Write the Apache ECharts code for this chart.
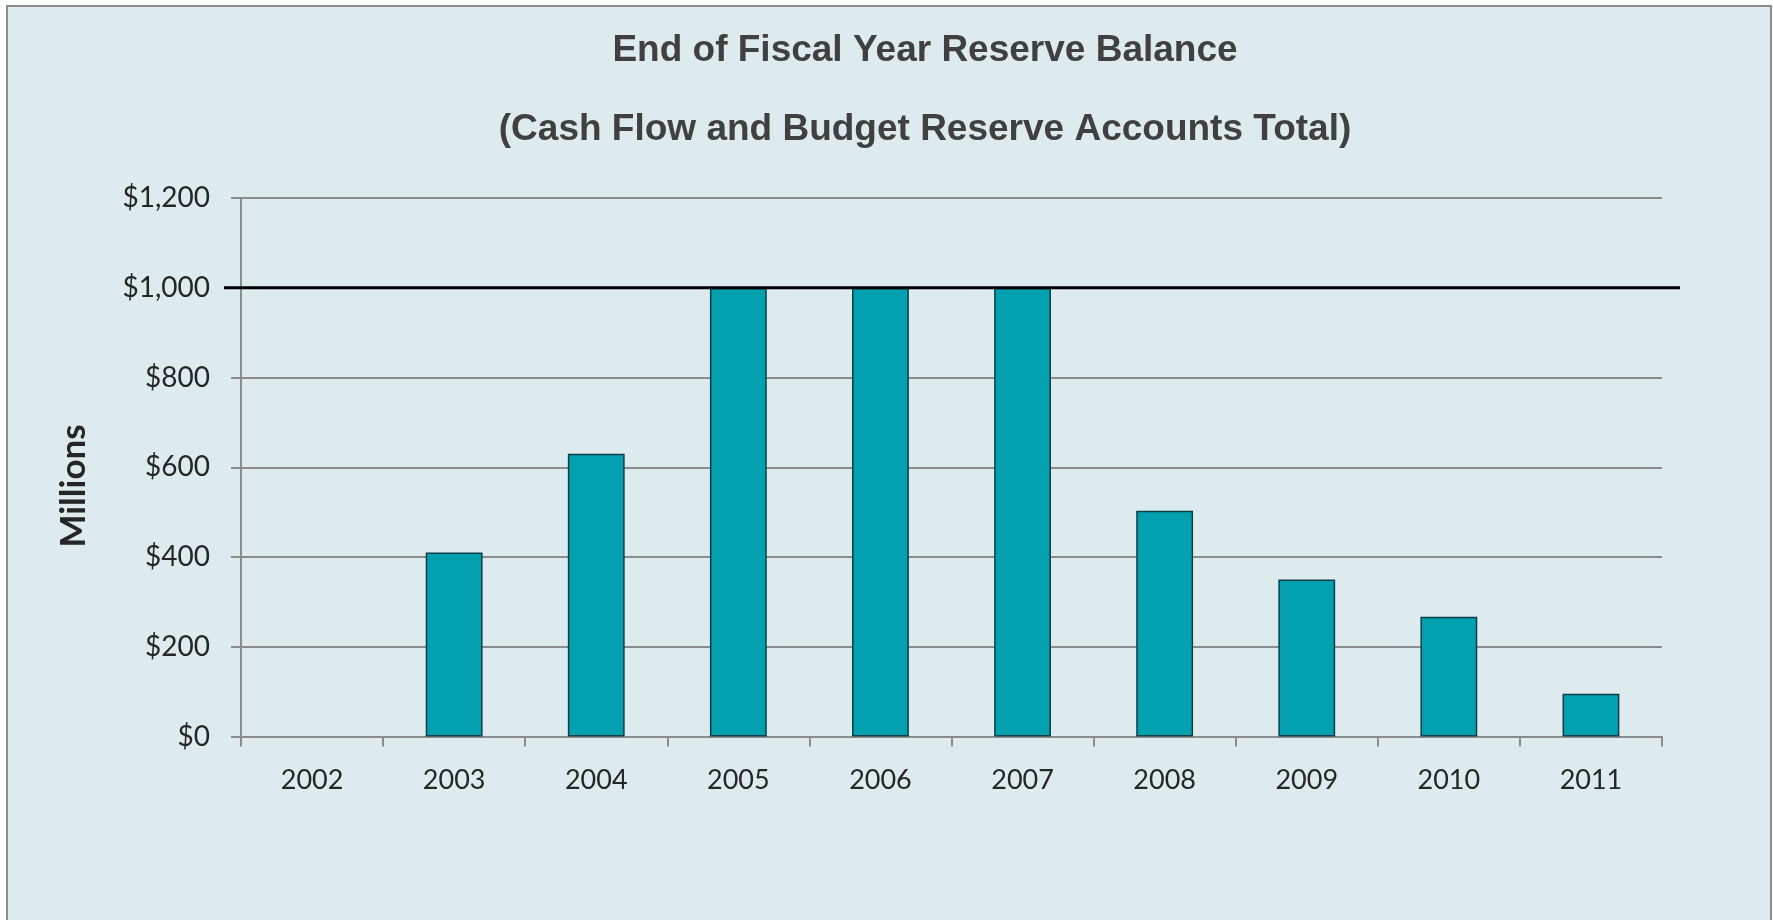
<!DOCTYPE html>
<html>
<head>
<meta charset="utf-8">
<script src="https://cdn.jsdelivr.net/npm/echarts@6/dist/echarts.min.js"></script>
<style>
html,body{margin:0;padding:0;background:#ffffff;}
#chart{width:1773px;height:920px;}
</style>
</head>
<body>
<div id="chart"></div>
<script>
// ---- data ----
const years = ['2002','2003','2004','2005','2006','2007','2008','2009','2010','2011'];
const reserveBalance = [null, 410, 630, 1000, 1000, 1000, 503, 350, 267, 95];
const capLine = [1000, 1000];
const yTicks = [0, 200, 400, 600, 800, 1000, 1200];
const titleLine1 = 'End of Fiscal Year Reserve Balance';
const titleLine2 = '(Cash Flow and Budget Reserve Accounts Total)';
const yAxisTitle = 'Millions';

const chart = echarts.init(document.getElementById('chart'));
const labelFont = 'Lato, "Open Sans", sans-serif';
const titleFont = '"Liberation Sans", Arial, sans-serif';

chart.setOption({
  backgroundColor: '#ffffff',
  animation: false,
  graphic: {
    elements: [
      { type: 'rect', z: -100, silent: true,
        shape: { x: 7, y: 6, width: 1764, height: 1000 },
        style: { fill: '#DDEBEE', stroke: '#8C8C8C', lineWidth: 2 } },
      { type: 'text', x: 925, y: 51, z: 10,
        style: { text: titleLine1, textAlign: 'center', textVerticalAlign: 'middle',
                 font: 'bold 37px ' + titleFont, fill: '#404040' } },
      { type: 'text', x: 925, y: 130, z: 10,
        style: { text: titleLine2, textAlign: 'center', textVerticalAlign: 'middle',
                 font: 'bold 37px ' + titleFont, fill: '#404040' } },
      { type: 'text', x: 74, y: 486, rotation: Math.PI / 2, z: 10,
        style: { text: yAxisTitle, textAlign: 'center', textVerticalAlign: 'middle',
                 font: 'bold 35px ' + labelFont, fill: '#262626' } }
    ]
  },
  grid: [
    { left: 241, right: 111, top: 198, bottom: 183.5 },
    { left: 224, right: 93, top: 198, bottom: 183.5 }
  ],
  xAxis: [
    {
      type: 'category', gridIndex: 0, data: years,
      axisLine: { lineStyle: { color: '#8C8C8C', width: 2 } },
      axisTick: { show: true, length: 10, alignWithLabel: false, lineStyle: { color: '#8C8C8C', width: 2 } },
      axisLabel: { color: '#262626', fontFamily: labelFont, fontSize: 27, margin: 30 },
      splitLine: { show: false }
    },
    { type: 'value', gridIndex: 1, min: 0, max: 1, show: false }
  ],
  yAxis: [
    {
      type: 'value', gridIndex: 0, min: yTicks[0], max: yTicks[yTicks.length - 1], interval: yTicks[1] - yTicks[0],
      axisLine: { show: true, lineStyle: { color: '#8C8C8C', width: 2 } },
      axisTick: { show: true, length: 10, lineStyle: { color: '#8C8C8C', width: 2 } },
      axisLabel: { color: '#262626', fontFamily: labelFont, fontSize: 28, margin: 31,
                   formatter: v => '$' + v.toLocaleString('en-US') },
      splitLine: { show: true, lineStyle: { color: '#8C8C8C', width: 2 } }
    },
    { type: 'value', gridIndex: 1, min: yTicks[0], max: yTicks[yTicks.length - 1], show: false }
  ],
  series: [
    {
      type: 'bar', xAxisIndex: 0, yAxisIndex: 0, data: reserveBalance,
      barWidth: '40%',
      itemStyle: { color: '#03A0B0', borderColor: '#0B3F47', borderWidth: 1.5 },
      z: 3
    },
    {
      type: 'line', xAxisIndex: 1, yAxisIndex: 1,
      data: capLine.map((v, i) => [i, v]),
      symbol: 'none',
      lineStyle: { color: '#000000', width: 3 },
      z: 5
    }
  ]
});
</script>
</body>
</html>
